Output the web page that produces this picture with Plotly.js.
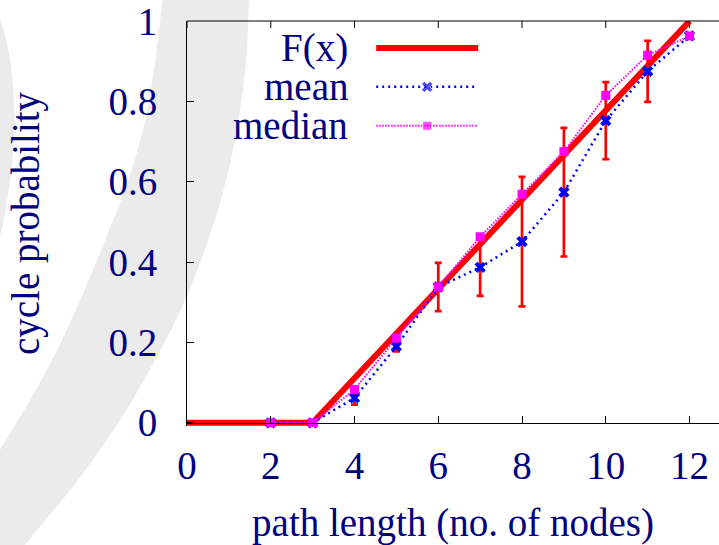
<!DOCTYPE html>
<html>
<head>
<meta charset="utf-8">
<script src="https://cdn.plot.ly/plotly-3.0.1.min.js"></script>
<style>html,body{margin:0;padding:0;background:#fff;}#chart{width:719px;height:545px;}</style>
</head>
<body>
<div id="chart"></div>
<script>
// ---- data ----
const pathLength = [2, 3, 4, 5, 6, 7, 8, 9, 10, 11, 12];
const meanProb   = [0, 0, 0.062, 0.190, 0.338, 0.387, 0.451, 0.574, 0.752, 0.875, 0.963];
const meanStd    = [0, 0, 0.017, 0.012, 0.060, 0.071, 0.161, 0.160, 0.096, 0.076, 0];
const medianProb = [0, 0, 0.083, 0.211, 0.338, 0.463, 0.569, 0.675, 0.815, 0.915, 0.963];
const fxX = [0, 3, 12];
const fxY = [0, 0, 1];
const xTicks = [0, 2, 4, 6, 8, 10, 12];
const yTicks = [0, 0.2, 0.4, 0.6, 0.8, 1];
const yTickText = ['0', '0.2', '0.4', '0.6', '0.8', '1'];
const legendNames = ['F(x)', 'mean', 'median'];

// ---- geometry helpers (pixel -> paper) ----
const PL = 186.7, PR = 719, PT = 20.7, PB = 426.5;
const YMIN = -0.008, YMAX = 1.0002;
const px2x = p => (p - PL) / (PR - PL);
const py2y = p => (PB - p) / (PB - PT);

function smoothPath(pts) {
  let d = '';
  const P = pts.map(p => [px2x(p[0]), py2y(p[1])]);
  for (let i = 0; i < P.length - 1; i++) {
    const p0 = P[Math.max(0, i - 1)], p1 = P[i], p2 = P[i + 1], p3 = P[Math.min(P.length - 1, i + 2)];
    const c1 = [p1[0] + (p2[0] - p0[0]) / 6, p1[1] + (p2[1] - p0[1]) / 6];
    const c2 = [p2[0] - (p3[0] - p1[0]) / 6, p2[1] - (p3[1] - p1[1]) / 6];
    d += ' C' + c1[0] + ',' + c1[1] + ' ' + c2[0] + ',' + c2[1] + ' ' + p2[0] + ',' + p2[1];
  }
  return d;
}
function startAt(p) { return 'M' + px2x(p[0]) + ',' + py2y(p[1]); }
function lineTo(p) { return ' L' + px2x(p[0]) + ',' + py2y(p[1]); }

const outerEdge = [[252,-20],[249,0],[246,60],[238,120],[226,180],[208,240],[185,300],[155,360],[120,420],[78,480],[25,545],[-20,600]];
const innerEdge = [[164,-20],[162,0],[155,60],[145,120],[128,180],[105,240],[80,300],[52,360],[18,420],[-20,480],[-70,545],[-110,600]];
const innerRev = innerEdge.slice().reverse();
const bandPath = startAt(outerEdge[0]) + smoothPath(outerEdge) + lineTo(innerRev[0]) + smoothPath(innerRev) + ' Z';

const sliverEdge = [[-6,5],[0,20],[8,50],[13,90],[14,130],[11,170],[6,205],[0,235],[-6,255]];
const sliverPath = startAt(sliverEdge[0]) + smoothPath(sliverEdge) + lineTo([-60,255]) + lineTo([-60,5]) + ' Z';

const NAVY = '#000080';
const FONT = 'Liberation Serif, "Times New Roman", serif';
const FS = 39;

const legX0 = px2x(376), legX1 = px2x(478), legXm = px2x(427);
const legRows = [47.7, 86.7, 125.7].map(py2y);
const legTextX = px2x(350);

const traces = [
  { x: fxX, y: fxY, mode: 'lines', line: { color: '#ff0000', width: 6 }, hoverinfo: 'skip', showlegend: false },
  { x: pathLength, y: meanProb, mode: 'markers', marker: { size: 1, color: 'rgba(0,0,0,0)' },
    error_y: { type: 'data', array: meanStd, visible: true, color: '#ff0000', thickness: 2.7, width: 3.5 },
    hoverinfo: 'skip', showlegend: false },
  { x: pathLength, y: meanProb, mode: 'lines+markers',
    line: { color: '#0000ff', width: 2.5, dash: '2px,4px' },
    marker: { symbol: 'x', size: 10, color: '#0000ff' }, cliponaxis: false, showlegend: false, name: legendNames[1] },
  { x: pathLength, y: medianProb, mode: 'lines+markers',
    line: { color: '#ff00ff', width: 2, dash: '1.5px,1.5px' },
    marker: { symbol: 'square', size: 9, color: '#ff00ff' }, cliponaxis: false, showlegend: false, name: legendNames[2] },
  // legend samples
  { x: [legX0, legX1], y: [legRows[0], legRows[0]], xaxis: 'x2', yaxis: 'y2', mode: 'lines',
    line: { color: '#ff0000', width: 6 }, hoverinfo: 'skip', showlegend: false, cliponaxis: false },
  { x: [legX0, legXm, legX1], y: [legRows[1], legRows[1], legRows[1]], xaxis: 'x2', yaxis: 'y2', mode: 'lines+markers',
    line: { color: '#0000ff', width: 2.5, dash: '2px,4px' },
    marker: { symbol: 'x', size: [0, 10, 0], color: '#0000ff' }, hoverinfo: 'skip', showlegend: false, cliponaxis: false },
  { x: [legX0, legXm, legX1], y: [legRows[2], legRows[2], legRows[2]], xaxis: 'x2', yaxis: 'y2', mode: 'lines+markers',
    line: { color: '#ff00ff', width: 2, dash: '1.5px,1.5px' },
    marker: { symbol: 'square', size: [0, 9, 0], color: '#ff00ff' }, hoverinfo: 'skip', showlegend: false, cliponaxis: false }
];

const xRangeMax = (PR - PL) / 41.9;
const tickLenPaper = 7 / (PB - PT);

// top border of the box with inward ticks (gnuplot style)
const topShapes = [{ type: 'line', xref: 'paper', yref: 'paper', x0: 0, x1: 1, y0: 1, y1: 1,
                     line: { color: '#000', width: 1 }, layer: 'above' }]
  .concat(xTicks.map(v => ({ type: 'line', xref: 'x', yref: 'paper', x0: v, x1: v, y0: 1, y1: 1 - tickLenPaper,
                             line: { color: '#000', width: 1 }, layer: 'above' })));

const layout = {
  width: 719, height: 545,
  margin: { l: PL, r: 0, t: PT, b: 545 - PB, pad: 0 },
  paper_bgcolor: '#ffffff',
  plot_bgcolor: 'rgba(0,0,0,0)',
  showlegend: false,
  font: { family: FONT, size: FS, color: NAVY },
  xaxis: {
    range: [0, xRangeMax], anchor: 'free', position: (-YMIN) / (YMAX - YMIN),
    tickvals: xTicks, ticktext: xTicks.map(String),
    ticks: 'inside', ticklen: 7, tickwidth: 1, tickcolor: '#000',
    showline: true, linecolor: '#000', linewidth: 1,
    showgrid: false, zeroline: false,
    tickfont: { family: FONT, size: FS, color: NAVY },
    ticklabelstandoff: 8, ticklabeloverflow: 'allow',
    title: { text: 'path length (no. of nodes)', font: { family: FONT, size: FS, color: NAVY }, standoff: 27 },
    automargin: false, fixedrange: true
  },
  yaxis: {
    range: [YMIN, YMAX], anchor: 'x',
    tickvals: yTicks, ticktext: yTickText,
    ticks: 'inside', ticklen: 7, tickwidth: 1, tickcolor: '#000',
    showline: true, linecolor: '#000', linewidth: 1,
    showgrid: false, zeroline: false,
    tickfont: { family: FONT, size: FS, color: NAVY },
    ticklabelstandoff: 21, ticklabeloverflow: 'allow',
    title: { text: 'cycle probability', font: { family: FONT, size: FS, color: NAVY }, standoff: 56 },
    automargin: false, fixedrange: true
  },
  xaxis2: { overlaying: 'x', range: [0, 1], visible: false, fixedrange: true },
  yaxis2: { overlaying: 'y', range: [0, 1], visible: false, fixedrange: true },
  shapes: [
    { type: 'path', xref: 'paper', yref: 'paper', path: bandPath, fillcolor: '#ebebeb', line: { width: 0 }, layer: 'below' },
    { type: 'path', xref: 'paper', yref: 'paper', path: sliverPath, fillcolor: '#ebebeb', line: { width: 0 }, layer: 'below' }
  ].concat(topShapes),
  annotations: legendNames.map((t, i) => ({
    text: t, xref: 'paper', yref: 'paper', x: legTextX, y: legRows[i],
    xanchor: 'right', yanchor: 'middle', showarrow: false,
    font: { family: FONT, size: FS, color: NAVY }
  }))
};

Plotly.newPlot('chart', traces, layout, { staticPlot: true, displayModeBar: false });
</script>
</body>
</html>
